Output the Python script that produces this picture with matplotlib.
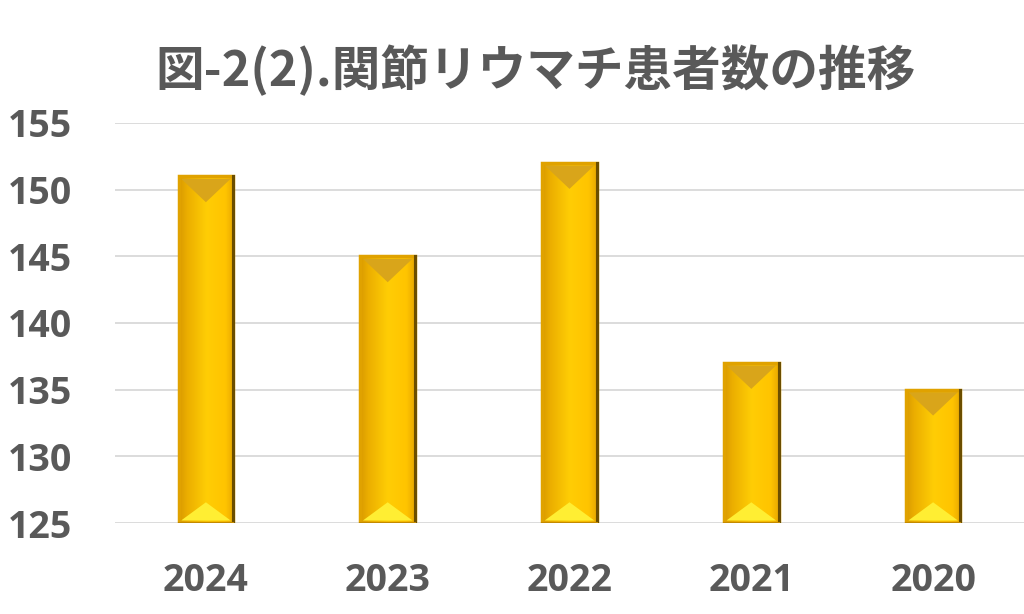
import matplotlib
matplotlib.use("Agg")
import matplotlib.pyplot as plt
import numpy as np
from matplotlib.patches import Polygon, Rectangle
from matplotlib.colors import LinearSegmentedColormap

categories = ["2024", "2023", "2022", "2021", "2020"]
values = [151, 145, 152, 137, 135]
yticks = [125, 130, 135, 140, 145, 150, 155]
title = "図-2(2).関節リウマチ患者数の推移"

plt.rcParams['font.family'] = ['Noto Sans CJK JP', 'DejaVu Sans']
TXT = "#595959"

fig = plt.figure(figsize=(10.24, 6.14), dpi=100)
ax = fig.add_axes([0.1123, 0.1482, 0.8877, 0.6515])
x = np.arange(len(categories))
ax.set_xlim(-0.5, len(categories) - 0.5)
ax.set_ylim(125, 155)
bw = 0.30
bars = ax.bar(x, [v - 125 for v in values], bottom=125, width=bw, color="none",
              edgecolor="none", zorder=3)

ax.set_yticks(yticks)
ax.set_yticklabels([str(t) for t in yticks])
ax.set_xticks(x)
ax.set_xticklabels(categories)
ax.grid(axis="y", color="#D9D9D9", linewidth=1.3, zorder=0)
for s in ax.spines.values():
    s.set_visible(False)
ax.tick_params(length=0)
for lab in ax.get_yticklabels() + ax.get_xticklabels():
    lab.set_fontfamily(['Open Sans', 'DejaVu Sans'])
    lab.set_fontweight('bold')
    lab.set_fontsize(27)
    lab.set_color(TXT)
ax.tick_params(axis='y', pad=31)
ax.tick_params(axis='x', pad=28)

cmap = LinearSegmentedColormap.from_list("gold", [
    (0.0, "#D99A00"), (0.15, "#EBAE00"), (0.5, "#FFCD05"), (0.85, "#FFC400"), (1.0, "#E8A800")])
grad = np.linspace(0, 1, 256).reshape(1, -1)

fig.canvas.draw()
p0 = ax.transData.transform((0, 125))
p1 = ax.transData.transform((1, 126))
px_per_x = p1[0] - p0[0]
px_per_y = p1[1] - p0[1]
for b in bars:
    x0 = b.get_x(); x1 = x0 + b.get_width()
    y0 = b.get_y(); y1 = y0 + b.get_height()
    xc = (x0 + x1) / 2
    clip = Rectangle((x0, y0), x1 - x0, y1 - y0, transform=ax.transData)
    im = ax.imshow(grad, cmap=cmap, extent=(x0, x1, y0, y1), aspect="auto", zorder=3)
    im.set_clip_path(clip)
    inset = 2.5 / px_per_x
    insety = 2.5 / px_per_y
    depth = (b.get_width() * px_per_x / 2) / px_per_y * 0.95
    ax.add_patch(Polygon([(x0 + inset, y1 - insety), (x1 - inset, y1 - insety), (xc, y1 - depth)],
                         closed=True, facecolor="#D9A51A", edgecolor="none", zorder=4))
    ax.add_patch(Polygon([(x0 + inset, y0 + insety), (x1 - inset, y0 + insety), (xc, y0 + depth * 0.8)],
                         closed=True, facecolor="#FFEE33", edgecolor="none", zorder=4))
    ax.add_patch(Rectangle((x0, y0), x1 - x0, y1 - y0, facecolor="none",
                           edgecolor="#E0A200", linewidth=2.5, zorder=5))
    ax.plot([x1, x1], [y0, y1], color="#6B4E00", linewidth=2.2, zorder=6)
    ax.plot([x0, x1], [y0, y0], color="#C48A00", linewidth=1.5, zorder=6)

fig.text(0.523, 0.886, title, ha="center", va="center", fontsize=35,
         fontweight="bold", color=TXT, family=['Noto Sans CJK JP', 'DejaVu Sans'])

fig.savefig("out.png", dpi=100)
